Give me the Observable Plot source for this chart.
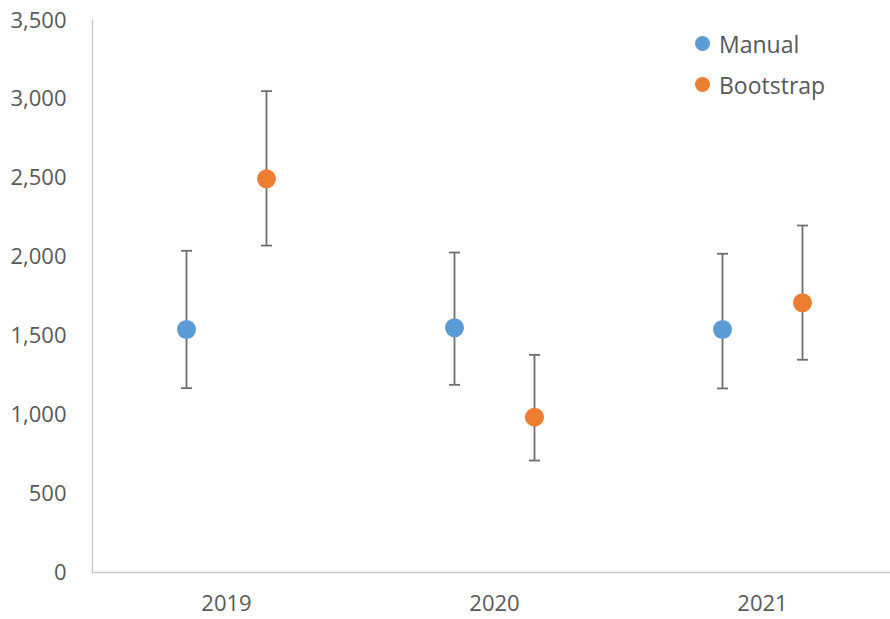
<!DOCTYPE html>
<html>
<head>
<meta charset="utf-8">
<script src="https://cdn.jsdelivr.net/npm/d3@7"></script>
<script src="https://cdn.jsdelivr.net/npm/@observablehq/plot@0.6"></script>
<style>
  html, body { margin: 0; padding: 0; background: #fff; }
  #wrap { position: relative; width: 890px; height: 619px; }
  .legend { position: absolute; left: 695px; top: 23px; font-family: "Open Sans", sans-serif; font-size: 23px; color: #595959; }
  .legend .item { display: flex; align-items: center; height: 41px; }
  .legend .sw { width: 15px; height: 15px; border-radius: 50%; margin-right: 9px; }
</style>
</head>
<body>
<div id="wrap"></div>
<script>
const years = ["2019", "2020", "2021"];
const seriesNames = ["Manual", "Bootstrap"];
const seriesColors = ["#5B9BD5", "#ED7D31"];
const manualValue = [1541, 1552, 1541];
const manualLow = [1169, 1190, 1167];
const manualHigh = [2040, 2029, 2021];
const bootValue = [2496, 985, 1710];
const bootLow = [2073, 710, 1349];
const bootHigh = [3052, 1380, 2200];
const yTicks = [0, 500, 1000, 1500, 2000, 2500, 3000, 3500];

const manual = years.map((y, i) => ({year: y, series: "Manual", value: manualValue[i], low: manualLow[i], high: manualHigh[i]}));
const boot = years.map((y, i) => ({year: y, series: "Bootstrap", value: bootValue[i], low: bootLow[i], high: bootHigh[i]}));

const cap = {
  draw(context, size) {
    const r = Math.sqrt(size / Math.PI);
    context.moveTo(-r, 0);
    context.lineTo(r, 0);
  }
};

const barColor = "#6e6e6e";
const offsets = [-40, 40];
const sets = [manual, boot];

const marks = [
  Plot.frame({anchor: "left", stroke: "#c6c6c6", strokeWidth: 1.3}),
  Plot.frame({anchor: "bottom", stroke: "#c6c6c6", strokeWidth: 1.3})
];
sets.forEach((data, k) => {
  const dx = offsets[k];
  marks.push(Plot.ruleX(data, {x: "year", y1: "low", y2: "high", dx, stroke: barColor, strokeWidth: 1.8}));
  marks.push(Plot.dot(data, {x: "year", y: "high", dx, symbol: cap, r: 5.5, stroke: barColor, strokeWidth: 1.8, fill: "none"}));
  marks.push(Plot.dot(data, {x: "year", y: "low", dx, symbol: cap, r: 5.5, stroke: barColor, strokeWidth: 1.8, fill: "none"}));
  marks.push(Plot.dot(data, {x: "year", y: "value", dx, r: 9.5, fill: seriesColors[k], stroke: "none"}));
});
marks.push(Plot.axisY({ticks: yTicks, tickFormat: d3.format(","), tickSize: 0, tickPadding: 26, fontSize: 22}));
marks.push(Plot.axisX({tickSize: 0, tickPadding: 23, fontSize: 22}));

const chart = Plot.plot({
  width: 890,
  height: 619,
  marginLeft: 92,
  marginRight: 0,
  marginTop: 20,
  marginBottom: 47,
  style: {fontFamily: "'Open Sans', sans-serif", color: "#595959", background: "#fff"},
  x: {type: "band", domain: years, range: [92, 896], padding: 0, label: null},
  y: {domain: [0, 3500], label: null},
  marks
});

const wrap = document.getElementById("wrap");
wrap.appendChild(chart);
const legend = document.createElement("div");
legend.className = "legend";
seriesNames.forEach((name, i) => {
  const item = document.createElement("div");
  item.className = "item";
  const sw = document.createElement("span");
  sw.className = "sw";
  sw.style.background = seriesColors[i];
  const label = document.createElement("span");
  label.textContent = name;
  item.appendChild(sw);
  item.appendChild(label);
  legend.appendChild(item);
});
wrap.appendChild(legend);
</script>
</body>
</html>
